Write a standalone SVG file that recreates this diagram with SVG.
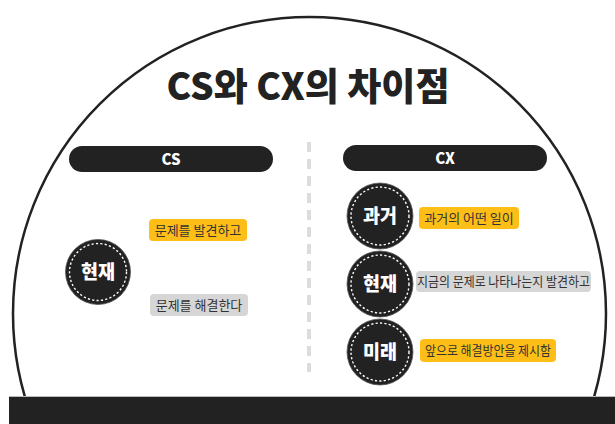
<svg xmlns="http://www.w3.org/2000/svg" width="615" height="424" viewBox="0 0 615 424">
<style>
.t{font-family:"Noto Sans CJK KR","Noto Sans",sans-serif}
.bar{fill:#222}
.hdr{fill:#fff;font-weight:900;font-size:15px;text-anchor:middle}
.node{fill:#222;stroke:#555;stroke-width:0.8}
.ring{fill:none;stroke:#fff;stroke-width:1.4;stroke-dasharray:2.2 2.2}
.nt{fill:#fff;font-weight:900;font-size:19px;text-anchor:middle}
.yl{fill:#FDBF17}
.gr{fill:#d6d6d6}
.lt{fill:#333;font-size:13px;text-anchor:middle}
</style>
<rect width="615" height="424" fill="#fff"/>
<circle cx="309.5" cy="313.5" r="296.5" fill="none" stroke="#222" stroke-width="2.5"/>
<line x1="309" y1="142" x2="309" y2="372" stroke="#dcdcdc" stroke-width="4" stroke-dasharray="10 7"/>
<rect x="9" y="397" width="606" height="27" fill="#222"/>
<line x1="9" y1="396.5" x2="615" y2="396.5" stroke="#bbb" stroke-width="1"/>
<text class="t" x="308" y="100" font-size="38" font-weight="900" fill="#222" text-anchor="middle" textLength="283" lengthAdjust="spacingAndGlyphs">CS와 CX의 차이점</text>

<g id="cs-header">
<rect class="bar" x="69" y="146" width="204" height="26" rx="13"/>
<text class="t hdr" x="171" y="164.5">CS</text>
</g>
<g id="cx-header">
<rect class="bar" x="343" y="145" width="204" height="26" rx="13"/>
<text class="t hdr" x="445" y="163.5">CX</text>
</g>

<g id="cs-now">
<circle class="node" cx="98" cy="272" r="32.5"/>
<circle class="ring" cx="98" cy="272" r="28.5"/>
<text class="t nt" x="98" y="279" textLength="34" lengthAdjust="spacingAndGlyphs">현재</text>
</g>
<g id="cs-label1">
<rect class="yl" x="149" y="219" width="98" height="22" rx="4"/>
<text class="t lt" x="198" y="234.5">문제를 발견하고</text>
</g>
<g id="cs-label2">
<rect class="gr" x="150" y="294" width="98" height="22" rx="4"/>
<text class="t lt" x="199" y="309.5">문제를 해결한다</text>
</g>

<g id="cx-past">
<circle class="node" cx="380" cy="216" r="33"/>
<circle class="ring" cx="380" cy="216" r="29"/>
<text class="t nt" x="380" y="223" textLength="34" lengthAdjust="spacingAndGlyphs">과거</text>
</g>
<g id="cx-now">
<circle class="node" cx="380" cy="284" r="33"/>
<circle class="ring" cx="380" cy="284" r="29"/>
<text class="t nt" x="380" y="291" textLength="34" lengthAdjust="spacingAndGlyphs">현재</text>
</g>
<g id="cx-future">
<circle class="node" cx="380" cy="352" r="33"/>
<circle class="ring" cx="380" cy="352" r="29"/>
<text class="t nt" x="380" y="359" textLength="34" lengthAdjust="spacingAndGlyphs">미래</text>
</g>
<g id="cx-label1">
<rect class="yl" x="419" y="207" width="100" height="22" rx="4"/>
<text class="t lt" x="469" y="222.5">과거의 어떤 일이</text>
</g>
<g id="cx-label2">
<rect class="gr" x="416" y="271" width="175" height="21" rx="4"/>
<text class="t lt" x="503.5" y="286" textLength="173" lengthAdjust="spacingAndGlyphs">지금의 문제로 나타나는지 발견하고</text>
</g>
<g id="cx-label3">
<rect class="yl" x="420" y="339" width="136" height="23" rx="4"/>
<text class="t lt" x="488" y="355" textLength="126" lengthAdjust="spacingAndGlyphs">앞으로 해결방안을 제시함</text>
</g>
</svg>
